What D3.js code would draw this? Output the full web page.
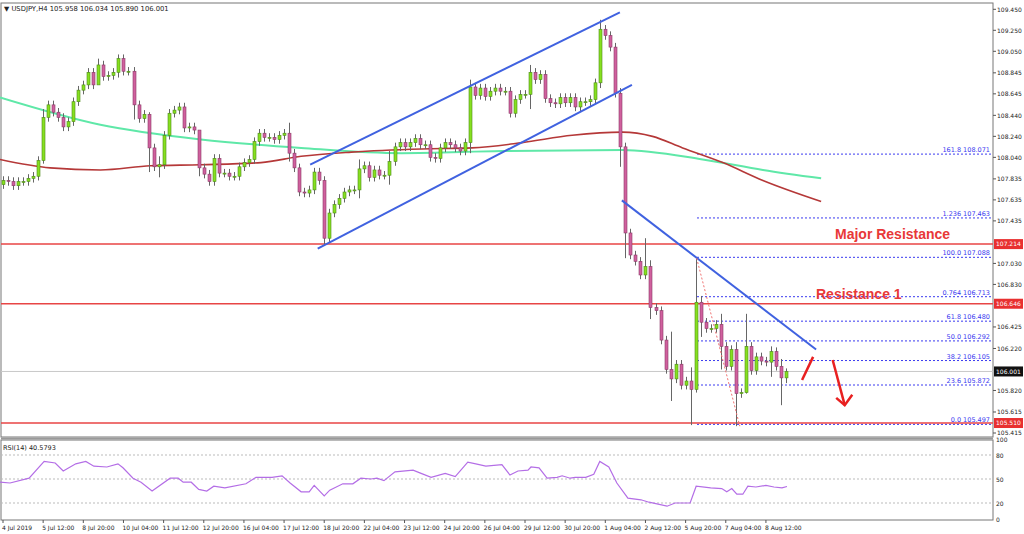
<!DOCTYPE html>
<html><head><meta charset="utf-8">
<script src="https://cdn.jsdelivr.net/npm/d3@7"></script>
<style>html,body{margin:0;padding:0;background:#fff}svg{display:block}</style>
</head><body>
<svg id="c" width="1024" height="534"></svg>
<script>
const closes=[107.82,107.81,107.77,107.81,107.81,107.84,107.86,108.01,108.42,108.54,108.47,108.42,108.33,108.38,108.57,108.68,108.73,108.85,108.73,108.92,108.81,108.82,108.85,108.98,108.86,108.86,108.54,108.41,108.45,108.13,107.95,107.97,108.25,108.46,108.49,108.52,108.32,108.33,108.30,107.94,107.88,107.81,108.03,107.89,107.89,107.86,107.86,107.95,107.99,108.02,108.19,108.27,108.23,108.23,108.21,108.25,108.27,108.08,107.94,107.71,107.70,107.73,107.90,107.82,107.27,107.51,107.59,107.65,107.71,107.73,107.73,107.93,107.96,107.85,107.92,107.87,107.87,108.00,108.14,108.18,108.14,108.18,108.22,108.16,108.16,108.04,108.03,108.13,108.18,108.16,108.13,108.10,108.18,108.71,108.63,108.70,108.62,108.67,108.70,108.67,108.67,108.46,108.59,108.64,108.64,108.85,108.78,108.83,108.60,108.56,108.55,108.61,108.56,108.61,108.52,108.57,108.57,108.59,108.75,109.26,109.20,109.09,108.65,108.14,107.32,107.11,107.05,106.92,107.00,106.61,106.58,106.30,106.02,105.93,106.07,105.87,105.91,105.83,106.66,106.47,106.41,106.41,106.45,106.24,106.05,106.21,105.79,105.80,106.24,106.01,106.14,106.10,106.09,106.19,106.05,105.94,106.00];
const firstOpen=107.78;
const wickExtremes=[[8,108.50,107.98],[19,108.98,108.78],[23,109.02,108.80],[26,108.90,108.40],[29,108.47,107.90],[31,108.05,107.85],[39,108.28,107.86],[57,108.37,108.00],[64,107.86,107.21],[71,108.02,107.65],[77,108.10,107.78],[93,108.78,108.08],[105,108.92,108.50],[119,109.35,108.70],[123,108.70,107.95],[124,108.18,107.08],[128,107.27,106.88],[129,107.06,106.50],[133,106.38,105.72],[137,106.04,105.49],[138,107.09,105.80],[139,106.72,106.33],[143,106.55,106.02],[146,106.28,105.48],[148,106.55,105.79],[153,106.24,105.95],[155,106.12,105.68],[156,106.03,105.89]];
const defaultWick=0.04;
const greenMA=[[-0.6,108.61],[19.4,108.35],[39.4,108.21],[59.4,108.13],[79.4,108.08],[99.4,108.10],[123.4,108.11],[139.4,108.02],[151.4,107.92],[163,107.84]];
const redMA=[[-0.6,108.02],[9.4,107.94],[19.4,107.92],[29.4,107.96],[39.4,107.97],[51.4,107.99],[59.4,108.05],[69.4,108.09],[83.4,108.12],[93.4,108.13],[103.4,108.18],[113.4,108.25],[123.4,108.28],[129.4,108.24],[135.4,108.13],[143.4,107.99],[151.4,107.82],[163,107.62]];
const trendLines=[[[61.2,107.97],[122.9,109.42]],[[62.7,107.17],[125.3,108.73]],[[123.3,107.63],[162,106.21]]];
const fibDiag=[[138.2,107.08],[146.8,105.48]];
const redLevels=[107.214,106.646,105.510];
const currentPrice=106.001;
const fibLevels=[[108.071,"161.8 108.071"],[107.463,"1.236 107.463"],[107.088,"100.0 107.088"],[106.713,"0.764 106.713"],[106.480,"61.8 106.480"],[106.292,"50.0 106.292"],[106.105,"38.2 106.105"],[105.872,"23.6 105.872"],[105.497,"0.0 105.497"]];
const priceTicks=[109.450,109.250,109.050,108.845,108.645,108.440,108.240,108.040,107.835,107.635,107.435,107.030,106.830,106.425,106.220,105.820,105.615,105.415];
const timeLabels=["4 Jul 2019","5 Jul 12:00","8 Jul 20:00","10 Jul 04:00","11 Jul 12:00","12 Jul 20:00","16 Jul 04:00","17 Jul 12:00","18 Jul 20:00","22 Jul 04:00","23 Jul 12:00","24 Jul 20:00","26 Jul 04:00","29 Jul 12:00","30 Jul 20:00","1 Aug 04:00","2 Aug 12:00","5 Aug 20:00","7 Aug 04:00","8 Aug 12:00"];
const rsiPts=[[-0.6,46],[1.4,45],[5.2,51],[8.2,72],[10.4,70],[12,60],[14.5,69],[16.5,72],[18.1,66],[20.7,65],[22.9,69],[23.9,64],[25.9,51],[27.5,46],[29.7,35],[33.3,51],[34.9,51],[35.9,46],[37.5,46],[39.0,37],[40.6,35],[42.0,41],[44.2,39],[48.4,44],[50.4,52],[53.6,52],[55.6,54],[57.2,45],[59.4,34],[61,34],[62,42],[64,29],[65.1,36],[67.7,44],[69.7,44],[71.3,51],[73.3,50],[74.5,51],[75.9,48],[78.1,59],[81.7,61],[83.3,57],[85.3,52],[88.1,57],[90.1,53],[92.6,71],[94.2,69],[96.2,66],[99.4,68],[101,55],[102.6,60],[104.6,61],[105.2,65],[106.8,64],[108.4,51],[110.4,52],[111.4,54],[113,51],[114,52],[116.1,52],[117.7,56],[118.9,72],[120.7,65],[122.3,45],[124.5,26],[127.1,24],[128.7,21],[132.3,16],[133.9,20],[136.9,20],[138.1,41],[141.0,39],[143.2,38],[144.2,34],[145.2,38],[146.2,31],[147.4,31],[148.4,41],[150,40],[152,42],[153.6,40],[155.2,39],[156.2,40.58]];
const annotations=[["Major Resistance",835,239,14],["Resistance 1",816,299,14]];

const svg=d3.select("#c");
const L=1,R=993,T=3,B=437;
const x=d3.scaleLinear().domain([0,156]).range([3,786]);
const y=d3.scaleLinear().domain([105.415,109.45]).range([433,9.3]);
const ry=d3.scaleLinear().domain([0,100]).range([519,439]);
const font="DejaVu Sans, sans-serif";

svg.append("rect").attr("x",0).attr("y",0).attr("width",1024).attr("height",534).attr("fill","#fff");
svg.append("rect").attr("x",L).attr("y",T).attr("width",R-L).attr("height",B-T).attr("fill","none").attr("stroke","#777");
svg.append("rect").attr("x",L).attr("y",440).attr("width",R-L).attr("height",80).attr("fill","none").attr("stroke","#777");
svg.append("line").attr("x1",L).attr("x2",R).attr("y1",438.5).attr("y2",438.5).attr("stroke","#999").attr("stroke-width",2);

const ext=new Map(wickExtremes.map(d=>[d[0],d]));
const bars=closes.map((c,i)=>{const o=i?closes[i-1]:firstOpen;const e=ext.get(i);
 return {i,o,c,h:e?e[1]:Math.max(o,c)+defaultWick,l:e?e[2]:Math.min(o,c)-defaultWick};});

svg.append("line").attr("x1",L).attr("x2",R).attr("y1",y(currentPrice)).attr("y2",y(currentPrice)).attr("stroke","#c8c8c8");
const fg=svg.append("g");
fibLevels.forEach(([v,t])=>{
 fg.append("line").attr("x1",697).attr("x2",R).attr("y1",y(v)).attr("y2",y(v)).attr("stroke","#3a3af0").attr("stroke-dasharray","2,2");
 fg.append("text").attr("x",990).attr("y",y(v)-2).attr("text-anchor","end").attr("font-family",font).attr("font-size",6.5).attr("fill","#3a3af0").text(t);
});
redLevels.forEach(v=>svg.append("line").attr("x1",L).attr("x2",R).attr("y1",y(v)).attr("y2",y(v)).attr("stroke","#e84545").attr("stroke-width",1.5));

const ln=d3.line().x(d=>x(d[0])).y(d=>y(d[1])).curve(d3.curveMonotoneX);
svg.append("path").attr("d",ln(greenMA)).attr("fill","none").attr("stroke","#5fe8a8").attr("stroke-width",2);
svg.append("path").attr("d",ln(redMA)).attr("fill","none").attr("stroke","#b53838").attr("stroke-width",1.6);

const cg=svg.append("g");
bars.forEach(b=>{
 const cx=Math.round(x(b.i))+0.5;
 cg.append("line").attr("x1",cx).attr("x2",cx).attr("y1",y(b.h)).attr("y2",y(b.l)).attr("stroke","#666");
 const up=b.c>=b.o;const top=y(Math.max(b.o,b.c)),bot=y(Math.min(b.o,b.c));
 cg.append("rect").attr("x",cx-1.5).attr("y",top).attr("width",3).attr("height",Math.max(1,bot-top))
  .attr("fill",up?"#86e020":"#d0609e").attr("stroke",up?"#4d8a1a":"#8a3a66").attr("stroke-width",0.6);
});

trendLines.forEach(t=>svg.append("line").attr("x1",x(t[0][0])).attr("y1",y(t[0][1])).attr("x2",x(t[1][0])).attr("y2",y(t[1][1])).attr("stroke","#4062e0").attr("stroke-width",2));
svg.append("line").attr("x1",x(fibDiag[0][0])).attr("y1",y(fibDiag[0][1])).attr("x2",x(fibDiag[1][0])).attr("y2",y(fibDiag[1][1])).attr("stroke","#f07070").attr("stroke-dasharray","2,2");
svg.append("line").attr("x1",x(159.2)).attr("y1",y(105.92)).attr("x2",x(161.4)).attr("y2",y(106.14)).attr("stroke","#e82020").attr("stroke-width",2.5);
svg.append("line").attr("x1",x(165.3)).attr("y1",y(106.11)).attr("x2",x(167.7)).attr("y2",y(105.68)).attr("stroke","#e82020").attr("stroke-width",2.5);
svg.append("path").attr("d",`M${x(166)},${y(105.75)} L${x(167.7)},${y(105.68)} L${x(169.2)},${y(105.78)}`).attr("fill","none").attr("stroke","#e82020").attr("stroke-width",2.5);

annotations.forEach(([t,ax,ay,s])=>svg.append("text").attr("x",ax).attr("y",ay).attr("font-family","Liberation Sans, Arial, sans-serif").attr("font-weight","bold").attr("font-size",s).attr("fill","#e83838").text(t));

const ax=svg.append("g").attr("font-family",font).attr("font-size",6);
priceTicks.forEach(v=>{ax.append("line").attr("x1",R).attr("x2",R+3).attr("y1",y(v)).attr("y2",y(v)).attr("stroke","#555");
 ax.append("text").attr("x",R+4).attr("y",y(v)+2.2).attr("fill","#222").text(v.toFixed(3));});
[[107.214,"#e83030"],[106.646,"#e83030"],[105.510,"#e83030"],[106.001,"#111"]].forEach(([v,c])=>{
 ax.append("rect").attr("x",R+1).attr("y",y(v)-5).attr("width",29).attr("height",10).attr("fill",c);
 ax.append("text").attr("x",R+3).attr("y",y(v)+2.2).attr("fill","#fff").text(v.toFixed(3));});

[80,50,20].forEach(v=>svg.append("line").attr("x1",L).attr("x2",R).attr("y1",ry(v)).attr("y2",ry(v)).attr("stroke","#bbb").attr("stroke-dasharray","2,2"));
[100,80,50,20,0].forEach(v=>ax.append("text").attr("x",R+3).attr("y",Math.min(ry(v)+3,522)).attr("fill","#222").text(v));
svg.append("path").attr("d",d3.line().x(d=>x(d[0])).y(d=>ry(d[1]))(rsiPts)).attr("fill","none").attr("stroke","#b46ee6").attr("stroke-width",1.2);
svg.append("text").attr("x",3).attr("y",450).attr("font-family",font).attr("font-size",6.5).attr("fill","#222").text("RSI(14) 40.5793");

svg.append("text").attr("x",4).attr("y",11).attr("font-family",font).attr("font-size",6.8).attr("fill","#222").text("▼ USDJPY,H4  105.958 106.034 105.890 106.001");

const tg=svg.append("g").attr("font-family",font).attr("font-size",6);
timeLabels.forEach((t,k)=>{const tx=x(k*8);
 tg.append("line").attr("x1",tx).attr("x2",tx).attr("y1",520).attr("y2",523).attr("stroke","#555");
 tg.append("text").attr("x",tx-1).attr("y",530).attr("fill","#222").text(t);});
</script>
</body></html>
